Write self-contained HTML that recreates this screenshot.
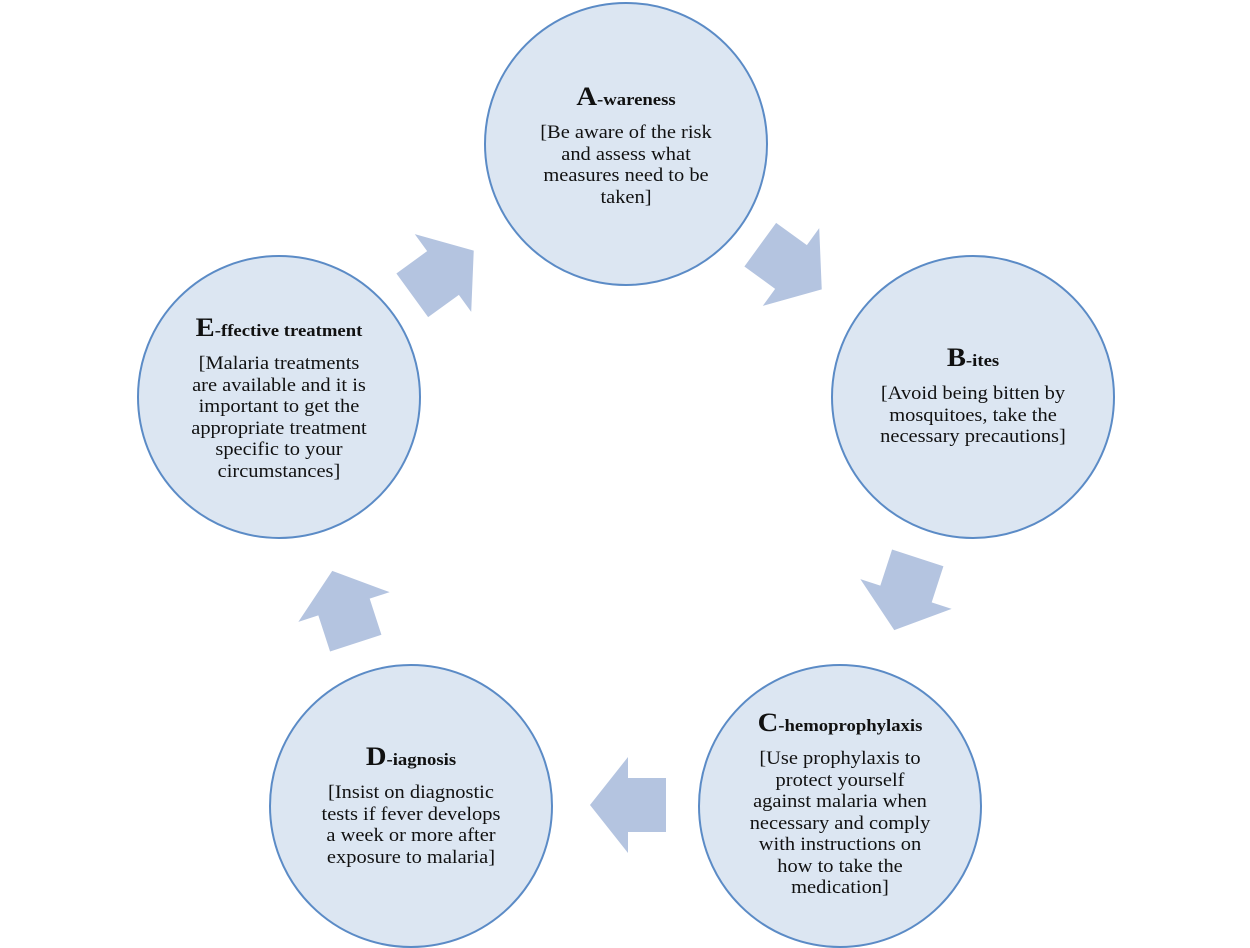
<!DOCTYPE html>
<html><head><meta charset="utf-8"><style>
body{margin:0;background:#fff;}
.w{position:relative;width:1250px;height:948px;overflow:hidden;font-family:"Liberation Serif",serif;color:#111;}
.t{position:absolute;width:260px;text-align:center;font-size:18.6px;line-height:21.5px;transform:scaleX(1.1);white-space:nowrap;}
.h{font-weight:bold;font-size:17px;line-height:26px;margin-bottom:9px;}
.h b{font-size:26px;}
</style></head><body><div class="w">
<svg width="1250" height="948" style="position:absolute;left:0;top:0">
<g fill="#dce6f2" stroke="#5b8bc6" stroke-width="2">
<circle cx="626" cy="144" r="141"/>
<circle cx="973" cy="397" r="141"/>
<circle cx="840" cy="806" r="141"/>
<circle cx="411" cy="806" r="141"/>
<circle cx="279" cy="397" r="141"/>
</g>
<defs><polygon id="ar" points="-38,-27 0,-27 0,-48 38,0 0,48 0,27 -38,27"/></defs>
<g fill="#b4c4e0">
<use href="#ar" transform="translate(791,267) rotate(36)"/>
<use href="#ar" transform="translate(906,594) rotate(108)"/>
<use href="#ar" transform="translate(628,805) rotate(180)"/>
<use href="#ar" transform="translate(344,607) rotate(-108)"/>
<use href="#ar" transform="translate(443,273) rotate(-36)"/>
</g>
</svg>
<div class="t" style="left:496px;top:84px"><div class="h"><b>A</b>-wareness</div>[Be aware of the risk<br>and assess what<br>measures need to be<br>taken]</div>
<div class="t" style="left:843px;top:345px"><div class="h"><b>B</b>-ites</div>[Avoid being bitten by<br>mosquitoes, take the<br>necessary precautions]</div>
<div class="t" style="left:710px;top:710px"><div class="h"><b>C</b>-hemoprophylaxis</div>[Use prophylaxis to<br>protect yourself<br>against malaria when<br>necessary and comply<br>with instructions on<br>how to take the<br>medication]</div>
<div class="t" style="left:281px;top:744px"><div class="h"><b>D</b>-iagnosis</div>[Insist on diagnostic<br>tests if fever develops<br>a week or more after<br>exposure to malaria]</div>
<div class="t" style="left:149px;top:315px"><div class="h"><b>E</b>-ffective treatment</div>[Malaria treatments<br>are available and it is<br>important to get the<br>appropriate treatment<br>specific to your<br>circumstances]</div>
</div></body></html>
